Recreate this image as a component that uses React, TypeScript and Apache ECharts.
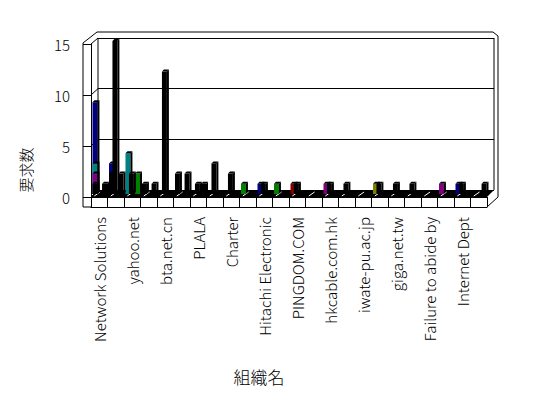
import React, { useEffect, useRef } from "react";
import * as echarts from "echarts";

// ---- data ----
const categories = [
  "Network Solutions", "(2)", "yahoo.net", "(4)", "bta.net.cn", "(6)",
  "PLALA", "(8)", "Charter", "(10)", "Hitachi Electronic", "(12)",
  "PINGDOM.COM", "(14)", "hkcable.com.hk", "(16)", "iwate-pu.ac.jp", "(18)",
  "giga.net.tw", "(20)", "Failure to abide by", "(22)", "Internet Dept", "(24)",
];
const yTicks = [0, 5, 10, 15];

// slot A (front-left) series
const navyA   = [9, 3, 0, 0, 0, 0, 0, 0, 0, 0, 1, 0, 0, 0, 0, 0, 0, 0, 0, 0, 0, 0, 1, 0];
const tealA   = [3, 0, 4, 0, 0, 0, 0, 0, 0, 0, 0, 0, 0, 0, 0, 0, 0, 0, 0, 0, 0, 0, 0, 0];
const purpleA = [2, 0, 0, 0, 0, 0, 0, 0, 0, 0, 0, 0, 0, 0, 1, 0, 0, 0, 0, 0, 0, 1, 0, 0];
const greenA  = [0, 0, 0, 0, 0, 0, 0, 0, 0, 1, 0, 1, 0, 0, 0, 0, 0, 0, 0, 0, 0, 0, 0, 0];
const maroonA = [0, 0, 0, 0, 0, 0, 0, 0, 0, 0, 0, 0, 1, 0, 0, 0, 0, 0, 0, 0, 0, 0, 0, 0];
const oliveA  = [0, 0, 0, 0, 0, 0, 0, 0, 0, 0, 0, 0, 0, 0, 0, 0, 0, 1, 0, 0, 0, 0, 0, 0];
const blackA  = [1, 2, 0, 1, 0, 2, 0, 0, 0, 0, 0, 0, 0, 0, 0, 0, 0, 0, 0, 0, 0, 0, 0, 0];
// slot C (right) series
const greenC  = [0, 0, 2, 0, 0, 0, 0, 0, 0, 0, 0, 0, 0, 0, 0, 0, 0, 0, 0, 0, 0, 0, 0, 0];
const blackC  = [1, 2, 0, 1, 0, 2, 1, 0, 0, 0, 0, 0, 0, 0, 0, 0, 0, 0, 0, 0, 0, 0, 0, 1];
// slot B (middle) series
const blackB  = [0, 15, 2, 0, 12, 0, 1, 3, 2, 0, 1, 0, 1, 0, 1, 1, 0, 1, 1, 1, 0, 0, 1, 0];

const FONT = '"Noto Sans CJK JP", "Noto Sans", sans-serif';
const SLOT: Record<string, number> = { A: 0.09, B: 0.3, C: 0.67 };

function barSeries(name: string, color: string, values: number[], slot: string) {
  const off = SLOT[slot];
  return {
    type: "custom",
    name,
    xAxisIndex: 3,
    yAxisIndex: 2,
    z: 5,
    data: values.map((v, i) => [i, v]),
    renderItem: (_p: any, api: any) => {
      const i = api.value(0);
      const v = api.value(1);
      if (!v) return null;
      const top = api.coord([i, v]);
      const bot = api.coord([i, 0]);
      const band = api.size([1, 0])[0];
      const x = top[0] - band / 2 + band * off;
      const w = band * 0.3;
      const d = 2;
      const yT = top[1];
      const yB = bot[1];
      return {
        type: "group",
        children: [
          { type: "rect", shape: { x, y: yT, width: w, height: yB - yT }, style: { fill: color } },
          {
            type: "polygon",
            shape: { points: [[x, yT], [x + w, yT], [x + w + d, yT - d], [x + d, yT - d]] },
            style: { fill: "#000" },
          },
          {
            type: "polygon",
            shape: { points: [[x + w, yT], [x + w + d, yT - d], [x + w + d, yB - d], [x + w, yB]] },
            style: { fill: "#000" },
          },
        ],
      };
    },
  };
}

export default function App() {
  const ref = useRef<HTMLDivElement>(null);
  useEffect(() => {
    if (!ref.current) return;
    const chart = echarts.init(ref.current, undefined, { renderer: "svg" });
    const line = { lineStyle: { color: "#000", width: 1 } };
    chart.setOption({
      animation: false,
      backgroundColor: "#fff",
      textStyle: { fontFamily: FONT },
      grid: [
        { left: 98, right: 54, top: 38, bottom: 208 },   // back wall
        { left: 91, right: 61, top: 44, bottom: 201 },   // front axes
        { left: 91, right: 61, top: 41, bottom: 204 },   // bars
        { left: 91, right: 61, top: 148, bottom: 206 },  // holder for the y-axis title
      ],
      xAxis: [
        { gridIndex: 0, type: "category", data: categories, show: false },
        {
          gridIndex: 1, type: "category", data: categories, position: "bottom",
          axisLine: { show: true, ...line },
          axisTick: { show: true, inside: false, length: 10, interval: 0, ...line },
          axisLabel: { rotate: 90, interval: 1, margin: 20, fontSize: 15, fontWeight: 300, color: "#000", fontFamily: FONT },
        },
        {
          gridIndex: 1, type: "category", data: categories, position: "bottom", offset: 10,
          axisLine: { show: true, ...line }, axisTick: { show: false }, axisLabel: { show: false },
        },
        { gridIndex: 2, type: "category", data: categories, show: false },
        { gridIndex: 3, type: "category", data: categories, show: false },
      ],
      yAxis: [
        {
          gridIndex: 0, type: "value", min: 0, max: 15, interval: 5,
          axisLine: { show: false }, axisTick: { show: false }, axisLabel: { show: false },
          splitLine: { show: true, ...line },
        },
        {
          gridIndex: 1, type: "value", min: 0, max: 15, interval: 5,
          axisLine: { show: true, ...line },
          axisTick: { show: true, inside: false, length: 8, ...line },
          axisLabel: { margin: 21, fontSize: 15, fontWeight: 300, color: "#000", fontFamily: FONT },
          splitLine: { show: false },
        },
        { gridIndex: 2, type: "value", min: 0, max: 15, show: false, splitLine: { show: false } },
        {
          gridIndex: 3, type: "value", min: 0, max: 15,
          name: "要求数", nameLocation: "middle", nameRotate: 90, nameGap: 58,
          nameTextStyle: { fontSize: 15, fontWeight: 300, color: "#000", fontFamily: FONT },
          axisLine: { show: false }, axisTick: { show: false }, axisLabel: { show: false },
          splitLine: { show: false },
        },
      ],
      series: [
        {
          type: "custom",
          name: "floor",
          xAxisIndex: 3,
          yAxisIndex: 2,
          z: 3,
          data: categories.map((_, i) => [i, 0]),
          renderItem: (_p: any, api: any) => {
            const c = api.coord([api.value(0), 0]);
            const band = api.size([1, 0])[0];
            const x = c[0] - band / 2;
            return {
              type: "line",
              shape: { x1: x + band * 0.2, y1: c[1] + 2, x2: x + band * 0.55, y2: c[1] - 2 },
              style: { stroke: "#fff", lineWidth: 1 },
            };
          },
        },
        barSeries("navy", "#000080", navyA, "A"),
        barSeries("teal", "#008080", tealA, "A"),
        barSeries("purple", "#800080", purpleA, "A"),
        barSeries("green", "#008000", greenA, "A"),
        barSeries("maroon", "#800000", maroonA, "A"),
        barSeries("olive", "#808000", oliveA, "A"),
        barSeries("blackA", "#000", blackA, "A"),
        barSeries("greenC", "#008000", greenC, "C"),
        barSeries("blackC", "#000", blackC, "C"),
        barSeries("blackB", "#000", blackB, "B"),
      ],
    });

    // frame decorations computed from the axes
    const fy = (v: number) => chart.convertToPixel({ yAxisIndex: 1 }, v) as number;
    const by = (v: number) => chart.convertToPixel({ yAxisIndex: 0 }, v) as number;
    const stroke = { stroke: "#000", lineWidth: 1, fill: "none" };
    const slants = yTicks.map((v) => ({
      type: "line", z: 1, shape: { x1: 91, y1: fy(v), x2: 98, y2: by(v) }, style: stroke,
    }));
    chart.setOption({
      graphic: [
        { type: "polygon", z: 1, shape: { points: [[91, 197], [487, 197], [494, 190], [98, 190]] }, style: { fill: "#000" } },
        { type: "line", z: 1, shape: { x1: 98, y1: by(15), x2: 98, y2: by(0) }, style: stroke },
        { type: "line", z: 1, shape: { x1: 494, y1: by(15), x2: 494, y2: by(0) }, style: stroke },
        { type: "polyline", z: 1, shape: { points: [[83, 207], [83, 43], [97, 32], [493, 32], [498, 36], [498, 197], [487, 207]] }, style: stroke },
        { type: "line", z: 1, shape: { x1: 83, y1: 207, x2: 91, y2: 207 }, style: stroke },
        ...slants,
        {
          type: "text", z: 1, x: 259, y: 376,
          style: { text: "組織名", font: `300 17px ${FONT}`, fill: "#000", align: "center", verticalAlign: "middle" },
        },
      ],
    });
    return () => chart.dispose();
  }, []);
  return (
    <div
      ref={ref}
      style={{ position: "fixed", left: 0, top: 0, width: 548, height: 398, background: "#fff" }}
    />
  );
}
